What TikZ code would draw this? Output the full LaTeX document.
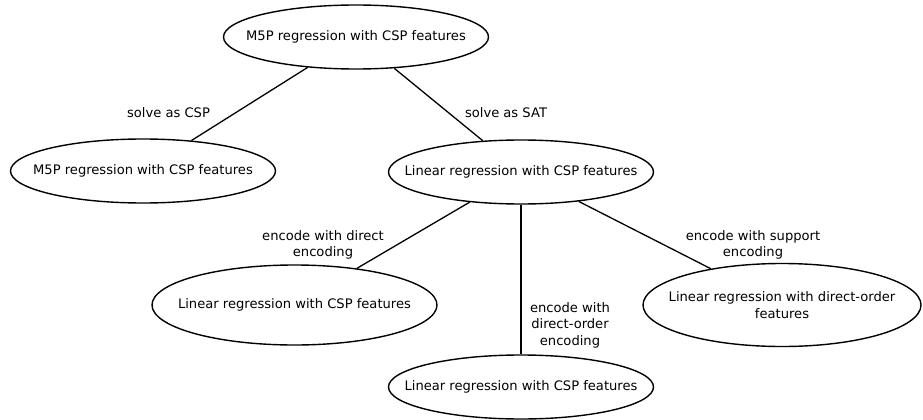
\documentclass[tikz,border=0pt]{standalone}
\usepackage{fontspec}
\setmainfont{DejaVu Sans}
\usetikzlibrary{shapes.geometric,positioning}

\begin{document}
\begin{tikzpicture}[x=1pt,y=1pt,on grid,auto]
  \tikzstyle{model}=[draw,ellipse,line width=1.4pt,inner xsep=-40pt,inner ysep=0pt,
    minimum width=265pt,minimum height=64pt,align=center,
    font=\fontsize{13.1}{16.4}\selectfont]
  \tikzstyle{lbl}=[align=center,inner sep=0pt,font=\fontsize{13.1}{16.4}\selectfont]
  \useasboundingbox (0,0) rectangle (923,-420);

  \node[model] (top) at (356,-37) {M5P regression with CSP features};
  \node[model] (csp) [below left=134pt and 213pt of top] {M5P regression with CSP features};
  \node[model] (sat) [below right=135pt and 165pt of top] {Linear regression with CSP features};

  \node[model,minimum width=285pt,minimum height=80pt] (direct) [below left=133pt and 226.5pt of sat]
    {Linear regression with CSP features};
  \node[model] (order) [below=215pt of sat] {Linear regression with CSP features};
  \node[model,minimum width=278pt,minimum height=83pt] (support) [below right=133pt and 261pt of sat]
    {Linear regression with direct-order\\features};

  % edge labels
  \node[lbl] (l1) at (168.5,-113) {solve as CSP};
  \node[lbl] (l2) at (506,-113) {solve as SAT};
  \node[lbl] (l3) at (323,-245) {encode with direct\\encoding};
  \node[lbl] (l4) at (570,-325) {encode with\\direct-order\\encoding};
  \node[lbl] (l5) at (753,-245) {encode with support\\encoding};

  \path[line width=1.3pt]
  (top) edge node {} (csp)
  (top) edge node {} (sat)
  (sat) edge node {} (direct)
  (sat) edge node {} (order)
  (sat) edge node {} (support)
  ;
\end{tikzpicture}
\end{document}
